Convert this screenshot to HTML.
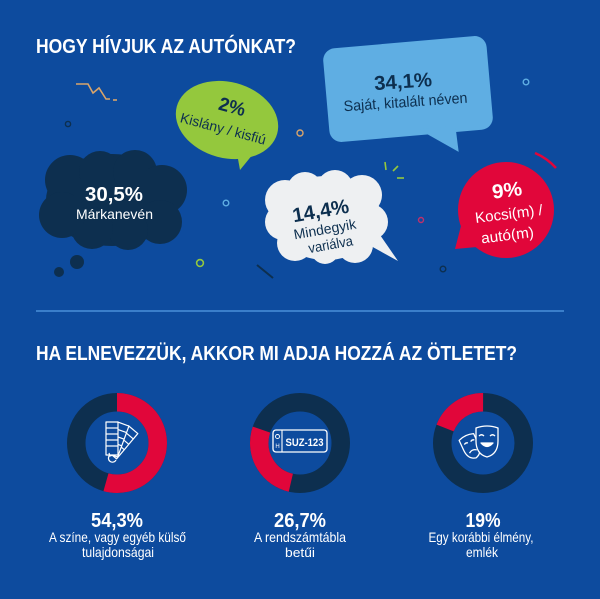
<!DOCTYPE html>
<html><head><meta charset="utf-8"><style>
html,body{margin:0;padding:0;background:#0D4B9E;}
svg{display:block;}
text{font-family:"Liberation Sans Narrow","Liberation Sans",sans-serif;}
</style></head><body>
<svg width="600" height="599" viewBox="0 0 600 599" xmlns="http://www.w3.org/2000/svg">
<rect width="600" height="599" fill="#0D4B9E"/>

<!-- Title 1 -->
<text x="36" y="53" font-size="20" font-weight="bold" fill="#fff" textLength="260" lengthAdjust="spacingAndGlyphs">HOGY HÍVJUK AZ AUTÓNKAT?</text>

<!-- decorations -->
<polyline points="76,84 88,84 93,93 99,88 106,99 110,99" fill="none" stroke="#D9A46A" stroke-width="1.6"/>
<line x1="113" y1="100" x2="117" y2="100" stroke="#D9A46A" stroke-width="1.6"/>
<circle cx="68" cy="124" r="2.6" fill="none" stroke="#0D2F4F" stroke-width="1.4"/>
<circle cx="300" cy="133" r="3" fill="none" stroke="#D9A46A" stroke-width="1.4"/>
<circle cx="226" cy="203" r="2.8" fill="none" stroke="#5FAEE3" stroke-width="1.4"/>
<circle cx="200" cy="263" r="3.4" fill="none" stroke="#94C83D" stroke-width="1.6"/>
<line x1="257" y1="265" x2="273" y2="278" stroke="#0D2F4F" stroke-width="2"/>
<line x1="385" y1="162" x2="386" y2="170" stroke="#94C83D" stroke-width="1.6"/>
<line x1="393" y1="171" x2="398" y2="166" stroke="#94C83D" stroke-width="1.6"/>
<line x1="397" y1="178" x2="404" y2="178" stroke="#94C83D" stroke-width="1.6"/>
<circle cx="421" cy="220" r="2.5" fill="none" stroke="#C0306A" stroke-width="1.4"/>
<circle cx="443" cy="269" r="2.8" fill="none" stroke="#0D2F4F" stroke-width="1.4"/>
<circle cx="526" cy="82" r="2.8" fill="none" stroke="#5FAEE3" stroke-width="1.4"/>

<!-- Dark cloud -->
<g fill="#0D2F4F">
<ellipse cx="112" cy="200" rx="66" ry="46"/>
<circle cx="70" cy="180" r="25"/>
<circle cx="100" cy="172" r="21"/>
<circle cx="135" cy="172" r="22"/>
<circle cx="162" cy="190" r="25"/>
<circle cx="160" cy="222" r="22"/>
<circle cx="128" cy="230" r="20"/>
<circle cx="92" cy="228" r="21"/>
<circle cx="62" cy="215" r="23"/>
<circle cx="77" cy="262" r="7"/>
<circle cx="59" cy="272" r="5"/>
</g>
<text x="114" y="201" font-size="20" font-weight="bold" fill="#fff" text-anchor="middle" textLength="58" lengthAdjust="spacingAndGlyphs">30,5%</text>
<text x="114.5" y="219" font-size="14" fill="#fff" text-anchor="middle" textLength="77" lengthAdjust="spacingAndGlyphs">Márkanevén</text>

<!-- Green bubble -->
<g fill="#94C83D">
<ellipse cx="227" cy="120" rx="52" ry="38" transform="rotate(15 227 120)"/>
<polygon points="236,148 258,148 240,170"/>
</g>
<g transform="rotate(15 226 122)">
<text x="228" y="112" font-size="19" font-weight="bold" fill="#0D2F4F" text-anchor="middle" textLength="27" lengthAdjust="spacingAndGlyphs">2%</text>
<text x="225" y="134" font-size="14" fill="#0D2F4F" text-anchor="middle" textLength="88" lengthAdjust="spacingAndGlyphs">Kislány / kisfiú</text>
</g>

<!-- Light blue speech box -->
<g transform="rotate(-5 408 89)" fill="#5FAEE3">
<rect x="326" y="42" width="164" height="94" rx="12"/>
<polygon points="415,130 452,130 453,156"/>
</g>
<g transform="rotate(-4 405 95)">
<text x="404" y="88" font-size="20" font-weight="bold" fill="#0D2F4F" text-anchor="middle" textLength="58" lengthAdjust="spacingAndGlyphs">34,1%</text>
<text x="405" y="107" font-size="15" fill="#0D2F4F" text-anchor="middle" textLength="124" lengthAdjust="spacingAndGlyphs">Saját, kitalált néven</text>
</g>

<!-- White cloud -->
<g fill="#EEF0F2">
<ellipse cx="326" cy="218" rx="55" ry="42"/>
<circle cx="285" cy="200" r="20"/>
<circle cx="305" cy="190" r="18"/>
<circle cx="335" cy="188" r="18"/>
<circle cx="362" cy="195" r="20"/>
<circle cx="370" cy="222" r="18"/>
<circle cx="355" cy="245" r="18"/>
<circle cx="325" cy="250" r="14"/>
<circle cx="295" cy="243" r="18"/>
<circle cx="283" cy="222" r="18"/>
<polygon points="360,240 378,232 398,261"/>
</g>
<g transform="rotate(-10 325 230)">
<text x="324" y="217" font-size="20" font-weight="bold" fill="#0D2F4F" text-anchor="middle" textLength="57" lengthAdjust="spacingAndGlyphs">14,4%</text>
<text x="325" y="234" font-size="14" fill="#0D2F4F" text-anchor="middle" textLength="63" lengthAdjust="spacingAndGlyphs">Mindegyik</text>
<text x="328" y="250" font-size="14" fill="#0D2F4F" text-anchor="middle" textLength="45" lengthAdjust="spacingAndGlyphs">variálva</text>
</g>

<!-- Red bubble -->
<g fill="#E1063A">
<circle cx="506" cy="210" r="48"/>
<polygon points="462,222 488,246 455,249"/>
</g>
<path d="M 535 153 A 60 60 0 0 1 556 168" fill="none" stroke="#E1063A" stroke-width="2.5"/>
<g transform="rotate(-7 508 215)">
<text x="510" y="197" font-size="20" font-weight="bold" fill="#fff" text-anchor="middle" textLength="30" lengthAdjust="spacingAndGlyphs">9%</text>
<text x="509" y="219" font-size="15" fill="#fff" text-anchor="middle" textLength="68" lengthAdjust="spacingAndGlyphs">Kocsi(m) /</text>
<text x="505" y="240" font-size="15" fill="#fff" text-anchor="middle" textLength="53" lengthAdjust="spacingAndGlyphs">autó(m)</text>
</g>

<!-- divider -->
<line x1="36" y1="311" x2="564" y2="311" stroke="#4A8FD8" stroke-width="1.5"/>

<!-- Title 2 -->
<text x="36" y="360" font-size="20" font-weight="bold" fill="#fff" textLength="481" lengthAdjust="spacingAndGlyphs">HA ELNEVEZZÜK, AKKOR MI ADJA HOZZÁ AZ ÖTLETET?</text>

<!-- Donut 1 -->
<circle cx="117" cy="443" r="40.75" fill="none" stroke="#0D2F4F" stroke-width="18.5"/>
<circle cx="117" cy="443" r="40.75" fill="none" stroke="#E1063A" stroke-width="18.5" stroke-dasharray="139.03 400" transform="rotate(-90 117 443)"/>
<!-- swatch icon -->
<g fill="#0D4B9E" stroke="#fff" stroke-width="1.2" stroke-linejoin="round">
<g transform="rotate(40 112 455)"><rect x="106" y="422" width="12" height="33"/><line x1="106" y1="429" x2="118" y2="429"/><line x1="106" y1="436" x2="118" y2="436"/><line x1="106" y1="443" x2="118" y2="443"/></g>
<g transform="rotate(20 112 455)"><rect x="106" y="422" width="12" height="33"/><line x1="106" y1="429" x2="118" y2="429"/><line x1="106" y1="436" x2="118" y2="436"/><line x1="106" y1="443" x2="118" y2="443"/></g>
<rect x="106" y="422" width="12" height="33"/><line x1="106" y1="428" x2="118" y2="428"/><line x1="106" y1="434" x2="118" y2="434"/><line x1="106" y1="440" x2="118" y2="440"/><line x1="106" y1="446" x2="118" y2="446"/>
</g>
<path d="M 110 455 A 4 4 0 1 0 116 460" fill="none" stroke="#fff" stroke-width="1.2"/>
<path d="M 109 453 L 110 456 L 113 455" fill="none" stroke="#fff" stroke-width="1.2"/>
<text x="117" y="527" font-size="20" font-weight="bold" fill="#fff" text-anchor="middle" textLength="52" lengthAdjust="spacingAndGlyphs">54,3%</text>
<text x="117.5" y="542" font-size="14" fill="#fff" text-anchor="middle" textLength="137" lengthAdjust="spacingAndGlyphs">A színe, vagy egyéb külső</text>
<text x="118" y="557" font-size="14" fill="#fff" text-anchor="middle" textLength="72" lengthAdjust="spacingAndGlyphs">tulajdonságai</text>

<!-- Donut 2 -->
<circle cx="300" cy="443" r="40.75" fill="none" stroke="#0D2F4F" stroke-width="18.5"/>
<circle cx="300" cy="443" r="40.75" fill="none" stroke="#E1063A" stroke-width="18.5" stroke-dasharray="68.36 400" transform="rotate(103 300 443)"/>
<rect x="273" y="430" width="54" height="22" rx="3" fill="#0D4B9E" stroke="#fff" stroke-width="1.3"/>
<line x1="282" y1="430" x2="282" y2="452" stroke="#fff" stroke-width="1.1"/>
<circle cx="277.5" cy="436.5" r="2" fill="none" stroke="#fff" stroke-width="0.9"/>
<text x="277.5" y="448" font-size="6" fill="#fff" text-anchor="middle" font-family="Liberation Sans, sans-serif">H</text>
<text x="304.5" y="446" font-size="11" font-weight="bold" fill="#fff" text-anchor="middle" textLength="38" lengthAdjust="spacingAndGlyphs">SUZ-123</text>
<text x="300" y="527" font-size="20" font-weight="bold" fill="#fff" text-anchor="middle" textLength="52" lengthAdjust="spacingAndGlyphs">26,7%</text>
<text x="300" y="542" font-size="14" fill="#fff" text-anchor="middle" textLength="92" lengthAdjust="spacingAndGlyphs">A rendszámtábla</text>
<text x="300" y="557" font-size="13" fill="#fff" text-anchor="middle" textLength="30" lengthAdjust="spacingAndGlyphs" style="font-family:'Liberation Sans',sans-serif">betűi</text>

<!-- Donut 3 -->
<circle cx="483" cy="443" r="40.75" fill="none" stroke="#0D2F4F" stroke-width="18.5"/>
<circle cx="483" cy="443" r="40.75" fill="none" stroke="#E1063A" stroke-width="18.5" stroke-dasharray="48.65 400" transform="rotate(201.6 483 443)"/>
<!-- masks -->
<g fill="#0D4B9E" stroke="#fff" stroke-width="1.3" stroke-linejoin="round">
<g transform="rotate(-25 471 447)">
<path d="M 463 436 Q 471 433 479 436 L 479 447 Q 479 457 471 459 Q 463 457 463 447 Z"/>
<path d="M 466 442 q 2 -1.5 4 0 M 473 442 q 2 -1.5 4 0" fill="none"/>
<path d="M 467 452 q 4 -3 8 0" fill="none"/>
</g>
<path d="M 476 428 Q 487 424 498 428 L 498 441 Q 498 454 487 457 Q 476 454 476 441 Z"/>
<path d="M 479 436 q 2.5 -2.5 5 0 M 490 436 q 2.5 -2.5 5 0" fill="none"/>
<path d="M 481 443 Q 487 450 493 443 Z" fill="#fff"/>
</g>
<text x="483" y="527" font-size="20" font-weight="bold" fill="#fff" text-anchor="middle" textLength="35" lengthAdjust="spacingAndGlyphs">19%</text>
<text x="481" y="542" font-size="14" fill="#fff" text-anchor="middle" textLength="105" lengthAdjust="spacingAndGlyphs">Egy korábbi élmény,</text>
<text x="482" y="557" font-size="14" fill="#fff" text-anchor="middle" textLength="32" lengthAdjust="spacingAndGlyphs">emlék</text>
</svg>
</body></html>
